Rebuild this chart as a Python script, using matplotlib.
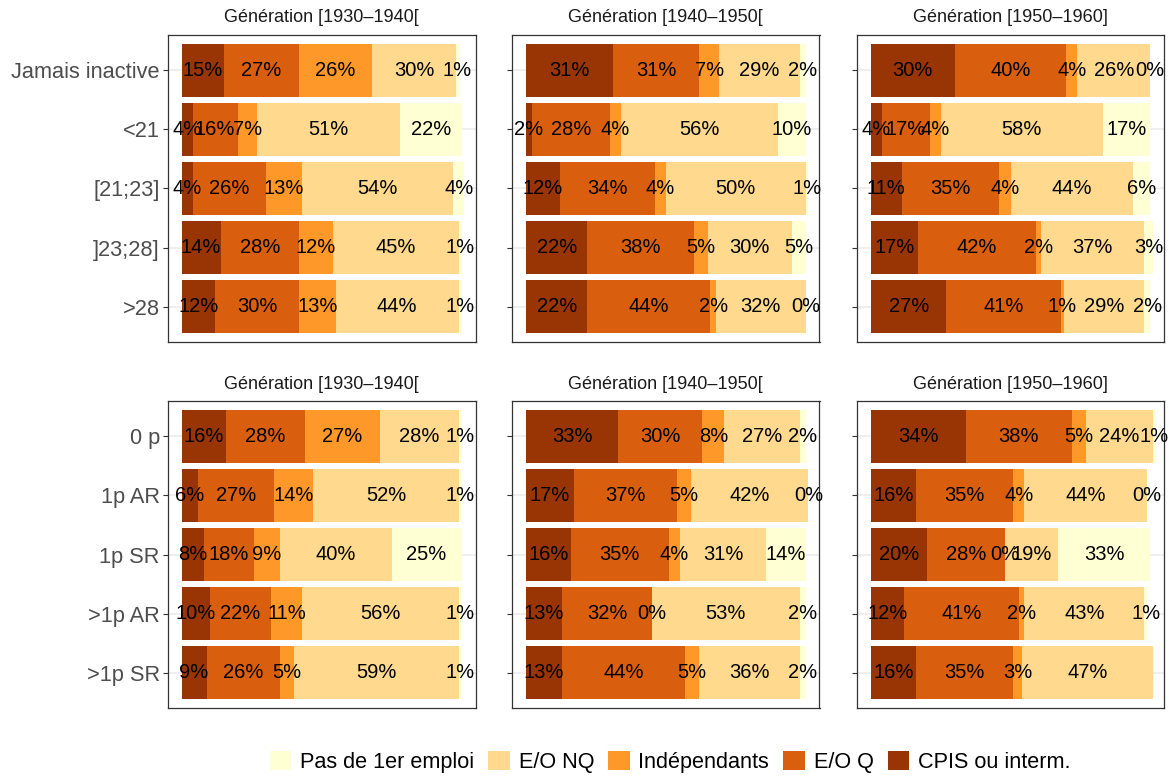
import numpy as np
import matplotlib.pyplot as plt
from matplotlib.patches import Patch

plt.rcParams['font.family'] = ['Liberation Sans', 'DejaVu Sans']

W, H = 1172, 779

generations = ["Génération [1930–1940[", "Génération [1940–1950[", "Génération [1950–1960]"]

# first block: age at end of studies
age_cats = ["Jamais inactive", "<21", "[21;23]", "]23;28]", ">28"]
age_cpis = [[15, 4, 4, 14, 12], [31, 2, 12, 22, 22], [30, 4, 11, 17, 27]]
age_eoq = [[27, 16, 26, 28, 30], [31, 28, 34, 38, 44], [40, 17, 35, 42, 41]]
age_indep = [[26, 7, 13, 12, 13], [7, 4, 4, 5, 2], [4, 4, 4, 2, 1]]
age_eonq = [[30, 51, 54, 45, 44], [29, 56, 50, 30, 32], [26, 58, 44, 37, 29]]
age_none = [[1, 22, 4, 1, 1], [2, 10, 1, 5, 0], [0, 17, 6, 3, 2]]

# second block: number of children / career break
kid_cats = ["0 p", "1p AR", "1p SR", ">1p AR", ">1p SR"]
kid_cpis = [[16, 6, 8, 10, 9], [33, 17, 16, 13, 13], [34, 16, 20, 12, 16]]
kid_eoq = [[28, 27, 18, 22, 26], [30, 37, 35, 32, 44], [38, 35, 28, 41, 35]]
kid_indep = [[27, 14, 9, 11, 5], [8, 5, 4, 0, 5], [5, 4, 0, 2, 3]]
kid_eonq = [[28, 52, 40, 56, 59], [27, 42, 31, 53, 36], [24, 44, 19, 43, 47]]
kid_none = [[1, 1, 25, 1, 1], [2, 0, 14, 2, 2], [1, 0, 33, 1, np.nan]]

series_names = ["CPIS ou interm.", "E/O Q", "Indépendants", "E/O NQ", "Pas de 1er emploi"]
colors = ["#993404", "#D95F0E", "#FE9929", "#FED98E", "#FFFFD4"]

fig = plt.figure(figsize=(W / 100, H / 100), dpi=100)


def px_axes(x0, y0, x1, y1):
    return fig.add_axes([x0 / W, 1 - y1 / H, (x1 - x0) / W, (y1 - y0) / H])


def draw_panel(ax, cats, stacks, show_labels):
    n = len(cats)
    ypos = np.arange(n)
    left = np.zeros(n)
    for vals, color in zip(stacks, colors):
        vals = np.array(vals, dtype=float)
        w = np.nan_to_num(vals) / 100
        ax.barh(ypos, w, left=left, height=0.9, color=color, zorder=2)
        for y, l, v, wi in zip(ypos, left, vals, w):
            if not np.isnan(v):
                ax.text(l + wi / 2, y, f"{int(v)}%", ha="center", va="center",
                        fontsize=14.5, color="black", zorder=3)
        left += w
    ax.set_xlim(-0.05, 1.05)
    ax.set_ylim(n - 0.4, -0.6)
    ax.set_xticks([])
    ax.set_yticks(ypos)
    ax.set_yticklabels(cats if show_labels else [])
    ax.yaxis.grid(True, color="#EBEBEB", lw=1.1)
    ax.set_axisbelow(True)
    ax.tick_params(axis="y", length=3.5, width=0.8, color="#333333",
                   labelcolor="#4D4D4D", labelsize=15.7, pad=2)
    for sp in ax.spines.values():
        sp.set_color("#333333")
        sp.set_linewidth(0.9)


cols = [(167.5, 475.5), (512, 819.5), (857, 1164)]
blocks = [
    ((35, 342), 18, age_cats, [age_cpis, age_eoq, age_indep, age_eonq, age_none]),
    ((401, 708), 384, kid_cats, [kid_cpis, kid_eoq, kid_indep, kid_eonq, kid_none]),
]

for (y0, y1), ty, cats, data in blocks:
    for g, (x0, x1) in enumerate(cols):
        ax = px_axes(x0, y0, x1, y1)
        stacks = [s[g] for s in data]
        draw_panel(ax, cats, stacks, show_labels=(g == 0))
        fig.text((x0 + x1) / 2 / W, 1 - ty / H, generations[g], ha="center",
                 va="center", fontsize=13, color="#1A1A1A")

handles = [Patch(facecolor=c, edgecolor="none", label=nm)
           for nm, c in zip(series_names[::-1], colors[::-1])]
fig.legend(handles=handles, loc="center", bbox_to_anchor=(670 / W, 1 - 762 / H),
           ncol=5, frameon=False, fontsize=15.6, handlelength=1.0, handleheight=1.0,
           handletextpad=0.4, columnspacing=0.65, borderpad=0)

fig.savefig("out.png", dpi=100)
